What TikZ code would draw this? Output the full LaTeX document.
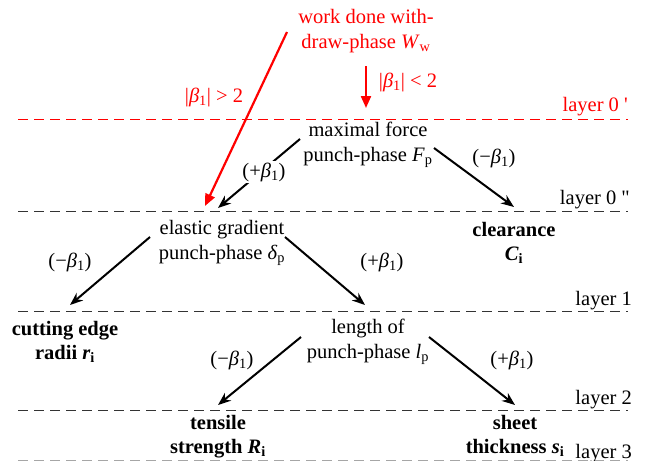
\documentclass[tikz,border=0pt]{standalone}
\usepackage{amsmath}
\usepackage{fontspec}
\setmainfont{Liberation Serif}
\newfontfamily\nomapfont[Ligatures=TeXOff]{Liberation Serif}
\usetikzlibrary{arrows.meta}
\newcommand\myB{\textit{β}$_{\text{1}}$}
\newcommand\mysub[1]{$_{\text{#1}}$}
\newcommand\mybsub[1]{$_{\textbf{#1}}$}
\begin{document}
\begin{tikzpicture}[x=1pt,y=-1pt,
  every node/.style={font=\fontsize{20.5}{25}\selectfont, inner sep=0pt, align=center},
  layerline/.style={dash pattern=on 10pt off 6pt, line width=1pt},
  blk/.style={line width=2pt, -{Stealth[length=13pt,width=10pt]}},
  redarr/.style={line width=2.2pt, red, -{Triangle[length=12pt,width=10pt]}},
  bold/.style={font=\fontsize{20.5}{24}\selectfont\bfseries}]
\useasboundingbox (0,0) rectangle (649,461);

% layer lines
\draw[layerline, red] (18,119) -- (628,119);
\draw[layerline, black!80] (18,211) -- (628,211);
\draw[layerline, black!80] (18,311) -- (628,311);
\draw[layerline, black!80] (18,410) -- (628,410);
\draw[layerline, black!35] (18,460) -- (628,460);
\node[red, anchor=base east] (l0a) at (628,111) {layer 0 {\nomapfont '}};
\node[anchor=base east] (l0b) at (630,204) {layer 0 {\nomapfont "}};
\node[anchor=base east] (l1) at (632,305) {layer 1};
\node[anchor=base east] (l2) at (632,404) {layer 2};
\node[anchor=base east] (l3) at (632,458) {layer 3};

% nodes
\node[red] (ww) at (366,31) {work done with-\\draw-phase \textit{W}\mysub{w}};
\node (mf) at (368,145) {maximal force\\punch-phase \textit{F}\mysub{p}};
\node (eg) at (222,243) {elastic gradient\\punch-phase \textit{δ}\mysub{p}};
\node[bold] (cl) at (514,243) {clearance\\\textbf{\textit{C}}\mybsub{i}};
\node (lo) at (368,342) {length of\\punch-phase \textit{l}\mysub{p}};
\node[bold] (ce) at (65,342) {cutting edge\\radii \textbf{\textit{r}}\mybsub{i}};
\node[bold] (ts) at (218,437) {tensile\\strength \textbf{\textit{R}}\mybsub{i}};
\node[bold] (st) at (515,436) {sheet\\thickness \textbf{\textit{s}}\mybsub{i}};

% coordinates
\coordinate (wwA) at (287,32);
\coordinate (wwB) at (205,206);
\coordinate (wwC) at (366,66);
\coordinate (wwD) at (366,108);
\coordinate (mfA) at (300,139);
\coordinate (mfB) at (218,208);
\coordinate (mfC) at (434,148);
\coordinate (mfD) at (514,207);
\coordinate (egA) at (150,237);
\coordinate (egB) at (70,305);
\coordinate (egC) at (285,237);
\coordinate (egD) at (365,305);
\coordinate (loA) at (301,337);
\coordinate (loB) at (218,405);
\coordinate (loC) at (429,337);
\coordinate (loD) at (515,405);

% red arrows
\draw[redarr] (wwA) -- (wwB);
\draw[redarr] (wwC) -- (wwD);
\node[red] (rb1) at (408,82) {|\myB| < 2};
\node[red] (rb2) at (214,97) {|\myB| > 2};

% black arrows
\draw[blk] (mfA) -- (mfB);
\node[fill=white, inner sep=2pt] (p1) at (264,172) {(+\myB)};
\draw[blk] (mfC) -- (mfD);
\node (p2) at (494,158) {(−\myB)};
\draw[blk] (egA) -- (egB);
\node (p3) at (70,262) {(−\myB)};
\draw[blk] (egC) -- (egD);
\node (p4) at (382,262) {(+\myB)};
\draw[blk] (loA) -- (loB);
\node (p5) at (232,360) {(−\myB)};
\draw[blk] (loC) -- (loD);
\node (p6) at (512,360) {(+\myB)};
\end{tikzpicture}
\end{document}
